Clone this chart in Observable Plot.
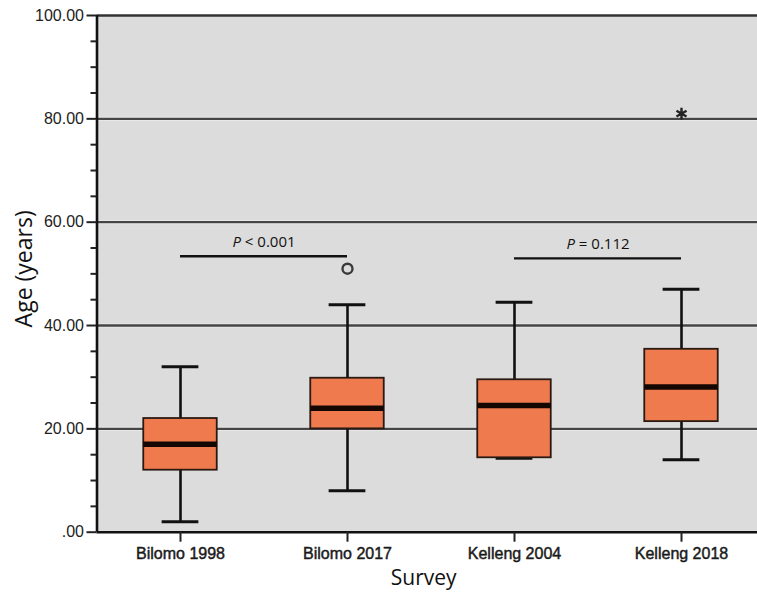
<!DOCTYPE html>
<html><head><meta charset="utf-8">
<script src="https://cdn.jsdelivr.net/npm/d3@7"></script>
<script src="https://cdn.jsdelivr.net/npm/@observablehq/plot@0.6"></script>
<style>body{margin:0;background:#fff;overflow:hidden} #chart{width:757px;height:593px;overflow:hidden} #chart svg{max-width:none}</style>
</head><body><div id="chart"></div>
<script>
const surveys = ["Bilomo 1998", "Bilomo 2017", "Kelleng 2004", "Kelleng 2018"];
const whiskerLow = [2, 8, 14.3, 14];
const q1 = [12, 20, 14.4, 21.4];
const median = [17, 24, 24.5, 28.1];
const q3 = [22, 29.8, 29.5, 35.4];
const whiskerHigh = [32, 44, 44.5, 47];
const outlierSurvey = ["Bilomo 2017"];
const outlierAge = [51];
const extremeSurvey = ["Kelleng 2018"];
const extremeAge = [81];
const comparisonFrom = ["Bilomo 1998", "Kelleng 2004"];
const comparisonTo = ["Bilomo 2017", "Kelleng 2018"];
const comparisonY = [53.4, 53.0];
const comparisonLabel = ["P < 0.001", "P = 0.112"];
const yTicks = [0, 20, 40, 60, 80, 100];
const yTickLabels = [".00", "20.00", "40.00", "60.00", "80.00", "100.00"];
const yMinorTicks = [5, 10, 15, 25, 30, 35, 45, 50, 55, 65, 70, 75, 85, 90, 95];
const gridValues = [20, 40, 60, 80];
const xDomain = [0.5, 4.5];
const yDomain = [0, 100];

const pos = name => surveys.indexOf(name) + 1;
const boxes = surveys.map((s, i) => ({s, x: i + 1, lo: whiskerLow[i], q1: q1[i], med: median[i], q3: q3[i], hi: whiskerHigh[i]}));
const outliers = outlierSurvey.map((s, i) => ({x: pos(s), y: outlierAge[i]}));
const extremes = extremeSurvey.map((s, i) => ({x: pos(s), y: extremeAge[i]}));
const comps = comparisonFrom.map((s, i) => ({x1: pos(s), x2: pos(comparisonTo[i]), y: comparisonY[i], label: comparisonLabel[i]}));
const HW = 0.22, CAP = 0.11;

const plot = Plot.plot({
  width: 772,
  height: 593,
  marginLeft: 96.5,
  marginRight: 0,
  marginTop: 15,
  marginBottom: 61.3,
  style: {fontFamily: "Liberation Sans, Arial, sans-serif"},
  x: {domain: xDomain, range: [96.5, 764.5], axis: null},
  y: {domain: yDomain, axis: null},
  marks: [
    Plot.rect([0], {x1: xDomain[0], x2: xDomain[1], y1: yDomain[0], y2: yDomain[1], fill: "#dcdcdc"}),
    Plot.ruleY(gridValues, {x1: xDomain[0], x2: xDomain[1], stroke: "#ebebeb", strokeWidth: 4}),
    Plot.ruleY(gridValues, {x1: xDomain[0], x2: xDomain[1], stroke: "#454545", strokeWidth: 2.3}),
    Plot.ruleY([100], {x1: xDomain[0], x2: xDomain[1], stroke: "#333", strokeWidth: 2.6}),
    Plot.ruleY(comps, {y: "y", x1: "x1", x2: "x2", stroke: "#111", strokeWidth: 2.4}),
    Plot.text(comps, {x: d => (d.x1 + d.x2) / 2, y: "y", text: "label", dy: -14, fontSize: 15, fontFamily: "Open Sans, sans-serif", fill: "#111", lineAnchor: "middle"}),
    Plot.ruleX(boxes, {x: "x", y1: "lo", y2: "q1", stroke: "#111", strokeWidth: 2.6}),
    Plot.ruleX(boxes, {x: "x", y1: "q3", y2: "hi", stroke: "#111", strokeWidth: 2.6}),
    Plot.ruleY(boxes, {y: "lo", x1: d => d.x - CAP, x2: d => d.x + CAP, stroke: "#111", strokeWidth: 3}),
    Plot.ruleY(boxes, {y: "hi", x1: d => d.x - CAP, x2: d => d.x + CAP, stroke: "#111", strokeWidth: 3}),
    Plot.rect(boxes, {x1: d => d.x - HW, x2: d => d.x + HW, y1: "q1", y2: "q3", fill: "#ee7a4e", stroke: "#2b1a12", strokeWidth: 1.8}),
    Plot.ruleY(boxes, {y: "med", x1: d => d.x - HW, x2: d => d.x + HW, stroke: "#140600", strokeWidth: 5.5}),
    Plot.dot(outliers, {x: "x", y: "y", r: 5, fill: "none", stroke: "#3a3a3a", strokeWidth: 2.4}),
    Plot.dot(extremes, {x: "x", y: "y", r: 5.5, symbol: "asterisk", stroke: "#222", strokeWidth: 2.4}),
    Plot.ruleX([xDomain[0]], {y1: yDomain[0], y2: yDomain[1], stroke: "#111", strokeWidth: 2.6}),
    Plot.ruleY([0], {x1: xDomain[0], x2: xDomain[1], stroke: "#111", strokeWidth: 2.6}),
    Plot.axisY(yMinorTicks, {tickSize: 6, tickFormat: () => "", stroke: "#222", strokeWidth: 2, label: null}),
    Plot.axisY(yTicks, {tickSize: 10, tickPadding: 3, tickFormat: d => yTickLabels[yTicks.indexOf(d)], fontSize: 16, fill: "#222", stroke: "#222", strokeWidth: 2, label: null}),
    Plot.axisX([1, 2, 3, 4], {tickSize: 10, tickPadding: 5, tickFormat: i => surveys[i - 1], fontSize: 16, fill: "#1a1a1a", stroke: "#222", strokeWidth: 2, label: null}),
    Plot.text(["Age (years)"], {frameAnchor: "left", textAnchor: "middle", rotate: -90, dx: -72, dy: -5, fontSize: 23, fontFamily: "Open Sans, sans-serif", fill: "#111", lineAnchor: "middle"}),
    Plot.text(["Survey"], {frameAnchor: "bottom", dx: -11, dy: 46, fontSize: 21, fontFamily: "Open Sans, sans-serif", fill: "#111", lineAnchor: "middle"})
  ]
});

const svg = d3.select(plot.tagName === "svg" ? plot : plot.querySelector("svg"));
svg.selectAll("text").each(function() {
  const t = this.textContent;
  if (/^P [<=]/.test(t)) {
    const el = d3.select(this);
    el.text("");
    el.append("tspan").attr("font-style", "italic").text("P");
    el.append("tspan").text(t.slice(1));
  }
});
svg.selectAll("text").filter(function() { return surveys.includes(this.textContent); })
  .attr("stroke", "#1a1a1a").attr("stroke-width", 0.45).attr("paint-order", "stroke");
document.getElementById("chart").append(plot);
</script>
</body></html>
